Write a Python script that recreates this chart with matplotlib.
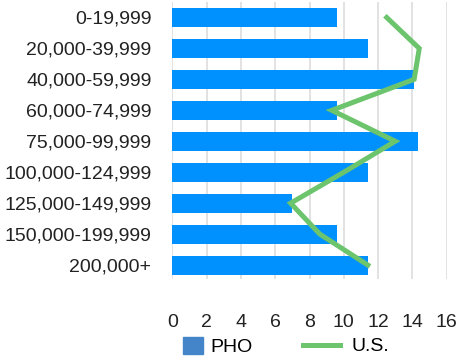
import matplotlib.pyplot as plt
from matplotlib.patches import Patch
from matplotlib.lines import Line2D

plt.rcParams['font.family'] = ['Liberation Sans', 'DejaVu Sans']

income_bands = ['0-19,999', '20,000-39,999', '40,000-59,999', '60,000-74,999',
                '75,000-99,999', '100,000-124,999', '125,000-149,999',
                '150,000-199,999', '200,000+']
pho = [9.6, 11.4, 14.1, 9.6, 14.3, 11.4, 7.0, 9.6, 11.4]
us = [12.5, 14.4, 14.1, 9.3, 13.0, 10.0, 6.9, 8.6, 11.4]

fig = plt.figure(figsize=(4.57, 3.58), dpi=100)
ax = fig.add_axes([0.377, 0.2207, 0.6005, 0.7737])

pos = list(range(len(income_bands)))
ax.barh(pos, pho, height=0.61, color='#0091FF', zorder=2)
ax.plot(us, pos, color='#6CC46C', linewidth=3.6, solid_joinstyle='miter', zorder=3)

ax.set_xlim(0, 16)
ax.set_ylim(8.45, -0.5)
ax.set_xticks(range(0, 17, 2))
ax.set_yticks(pos)
ax.set_yticklabels(income_bands)
ax.tick_params(length=0, labelsize=14, colors='#222222')
ax.tick_params(axis='x', pad=25)
ax.tick_params(axis='y', pad=15)
ax.grid(axis='x', color='#dddddd', linewidth=1.2, zorder=0)
for s in ax.spines.values():
    s.set_visible(False)

# two legend boxes so each key can have its own size
fig.legend([Patch(color='#4485C9')], ['PHO'], loc='center left',
           bbox_to_anchor=(0.4004, 0.032), frameon=False, fontsize=14,
           borderpad=0, borderaxespad=0, handlelength=1.03, handleheight=0.93,
           handletextpad=0.4)
fig.legend([Line2D([], [], color='#6CC46C', linewidth=3.6)], ['U.S.'], loc='center left',
           bbox_to_anchor=(0.663, 0.032), frameon=False, fontsize=14,
           borderpad=0, borderaxespad=0, handlelength=1.9, handletextpad=0.57)

fig.savefig('out.png', dpi=100)
